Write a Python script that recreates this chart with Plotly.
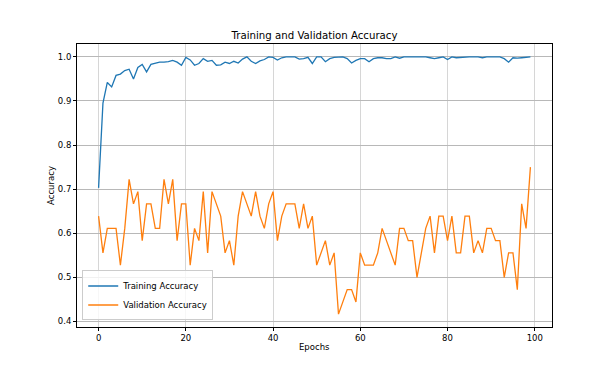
import plotly.graph_objects as go

epochs = list(range(100))

train_acc = [
    0.703, 0.895, 0.942, 0.932, 0.958, 0.961, 0.969, 0.972, 0.950, 0.976,
    0.983, 0.966, 0.983, 0.986, 0.988, 0.988, 0.989, 0.992, 0.988, 0.981,
    0.999, 0.993, 0.981, 0.985, 0.996, 0.990, 0.992, 0.981, 0.982, 0.988,
    0.985, 0.990, 0.986, 0.995, 1.000, 0.990, 0.985, 0.991, 0.994, 1.000,
    0.999, 0.993, 0.998, 1.000, 1.000, 1.000, 0.995, 0.996, 0.999, 0.985,
    1.000, 1.000, 0.989, 0.996, 0.999, 0.999, 1.000, 0.996, 0.986, 0.992,
    0.996, 0.996, 0.989, 0.996, 0.998, 0.998, 0.996, 0.996, 1.000, 0.997,
    1.000, 1.000, 1.000, 1.000, 0.999, 1.000, 0.998, 0.996, 0.998, 1.000,
    0.994, 1.000, 0.998, 0.999, 1.000, 1.000, 1.000, 1.000, 0.998, 1.000,
    1.000, 1.000, 1.000, 0.996, 0.988, 0.998, 0.997, 0.998, 0.999, 1.000,
]

val_acc = [
    0.6389, 0.5556, 0.6111, 0.6111, 0.6111, 0.5278, 0.6111, 0.7222, 0.6667, 0.6944,
    0.5833, 0.6667, 0.6667, 0.6111, 0.6111, 0.7222, 0.6667, 0.7222, 0.5833, 0.6667,
    0.6667, 0.5278, 0.6111, 0.5833, 0.6944, 0.5556, 0.6944, 0.6667, 0.6389, 0.5556,
    0.5833, 0.5278, 0.6389, 0.6944, 0.6667, 0.6389, 0.6944, 0.6389, 0.6111, 0.6667,
    0.6944, 0.5833, 0.6389, 0.6667, 0.6667, 0.6667, 0.6111, 0.6667, 0.6111, 0.6389,
    0.5278, 0.5556, 0.5833, 0.5278, 0.5556, 0.4167, 0.4444, 0.4722, 0.4722, 0.4444,
    0.5556, 0.5278, 0.5278, 0.5278, 0.5556, 0.6111, 0.5833, 0.5556, 0.5278, 0.6111,
    0.6111, 0.5833, 0.5833, 0.5000, 0.5556, 0.6111, 0.6389, 0.5556, 0.6389, 0.6389,
    0.5833, 0.6389, 0.5556, 0.5556, 0.6389, 0.6389, 0.5556, 0.5833, 0.5556, 0.6111,
    0.6111, 0.5833, 0.5833, 0.5000, 0.5556, 0.5556, 0.4722, 0.6667, 0.6111, 0.7500,
]

x_ticks = [0, 20, 40, 60, 80, 100]
y_ticks = [0.4, 0.5, 0.6, 0.7, 0.8, 0.9, 1.0]

title_text = "Training and Validation Accuracy"
x_label = "Epochs"
y_label = "Accuracy"

font_family = "DejaVu Sans"

fig = go.Figure()
fig.add_trace(go.Scatter(x=epochs, y=train_acc, mode="lines", name="Training Accuracy",
                         line=dict(color="#1f77b4", width=1.3)))
fig.add_trace(go.Scatter(x=epochs, y=val_acc, mode="lines", name="Validation Accuracy",
                         line=dict(color="#ff7f0e", width=1.3)))

fig.update_layout(
    width=613, height=368,
    margin=dict(l=77, r=61, t=44, b=41),
    paper_bgcolor="white", plot_bgcolor="white",
    font=dict(family=font_family, size=8.5, color="black"),
    title=dict(text=title_text, x=0.5, xref="paper", y=1 - 35 / 368, yref="container",
               xanchor="center", yanchor="middle", font=dict(size=10.2, color="black")),
    showlegend=True,
    legend=dict(x=0.011, y=0.023, xanchor="left", yanchor="bottom",
                bgcolor="rgba(255,255,255,0.8)", bordercolor="#cccccc", borderwidth=1,
                font=dict(size=8.5), tracegroupgap=0, itemwidth=30),
)

fig.update_xaxes(range=[-4.95, 103.95], tickvals=x_ticks, ticks="outside", ticklen=3,
                 tickcolor="black", tickwidth=0.8, showline=True, linecolor="black",
                 linewidth=0.8, mirror=True, showgrid=True, gridcolor="#d6d6d6",
                 gridwidth=0.8, zeroline=False, tickfont=dict(size=8.5))
fig.update_yaxes(range=[0.3875, 1.0292], tickvals=y_ticks, tickformat=".1f", ticks="outside",
                 ticklen=3, tickcolor="black", tickwidth=0.8, showline=True, linecolor="black",
                 linewidth=0.8, mirror=True, showgrid=True, gridcolor="#b8b8b8",
                 gridwidth=0.8, zeroline=False, tickfont=dict(size=8.5))

fig.add_annotation(text=x_label, x=0.5, xref="paper", y=-0.069, yref="paper",
                   showarrow=False, xanchor="center", yanchor="middle", font=dict(size=8.5))
fig.add_annotation(text=y_label, x=-0.056, xref="paper", y=0.5, yref="paper",
                   showarrow=False, textangle=-90, xanchor="center", yanchor="middle",
                   font=dict(size=8.5))

fig.write_html("out.html", config={"displayModeBar": False},
               post_script="document.body.style.margin='0';")
